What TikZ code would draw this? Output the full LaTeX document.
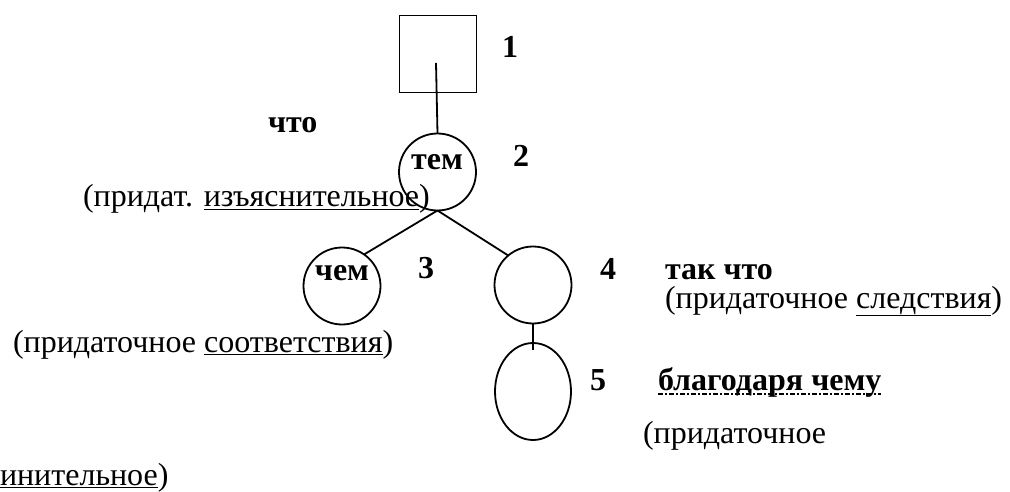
\documentclass[tikz,border=0pt]{standalone}
\usepackage{fontspec}
\usetikzlibrary{shapes.geometric}
\setmainfont{Liberation Serif}
\begin{document}
\begin{tikzpicture}[x=1pt,y=-1pt,
  every node/.style={inner sep=0pt,outer sep=0pt,font=\fontsize{32}{38}\selectfont},
  ln/.style={line width=1.8pt},
  ring/.style={draw,line width=1.8pt,circle,minimum size=77pt},
  oval/.style={draw,line width=1.8pt,ellipse,minimum width=76pt,minimum height=97pt},
  sqbox/.style={draw,line width=1.8pt,minimum size=77pt},
  lab/.style={anchor=base west},
  blab/.style={anchor=base west,font=\fontsize{32}{38}\selectfont\bfseries},
  ctext/.style={anchor=base,font=\fontsize{32}{38}\selectfont\bfseries},
  dashdotline/.style={line width=1.6pt,dash pattern=on 5pt off 2pt on 2pt off 2pt}]
\useasboundingbox (0,0) rectangle (1010,492);
% shapes
\node[sqbox] (sq) at (438,54) {};
\node[ring] (c2) at (437.5,172) {};
\node[ring] (c3) at (342,286) {};
\node[ring] (c4) at (533,285) {};
\node[oval] (c5) at (533,391.5) {};
\coordinate (sqin) at (436,63);
\coordinate (c5in) at (533,350);
% connectors
\draw[ln] (sqin) -- (c2.north);
\draw[ln] (c2.south) -- (c3.55);
\draw[ln] (c2.south) -- (c4.130);
\draw[ln] (c4.south) -- (c5in);
% texts
\node[blab] (n1) at (502,58) {1};
\node[blab] (n2) at (513,167) {2};
\node[ctext] (tem) at (437,170) {тем};
\node[blab] (chto) at (268,133) {что};
\node[lab] (izj) at (83,207) {(придат. \underline{изъяснительное})};
\node[ctext] (chem) at (342,280) {чем};
\node[blab] (n3) at (418,278) {3};
\node[lab] (sootv) at (13,352) {(придаточное \underline{соответствия})};
\node[blab] (n4) at (600,279) {4};
\node[blab] (takchto) at (665,279) {так что};
\node[lab] (sled) at (665,308) {(придаточное \underline{следствия})};
\node[blab] (n5) at (590,390) {5};
\node[blab] (blag) at (658,390) {благодаря чему};
\coordinate (bu1) at ([yshift=-4pt]blag.base west);
\coordinate (bu2) at ([yshift=-4pt]blag.base east);
\draw[dashdotline] (bu1) -- (bu2);
\node[lab] (prid5) at (643,443) {(придаточное};
\node[lab] (prisoed) at (0,485) {\underline{инительное})};
\end{tikzpicture}
\end{document}
